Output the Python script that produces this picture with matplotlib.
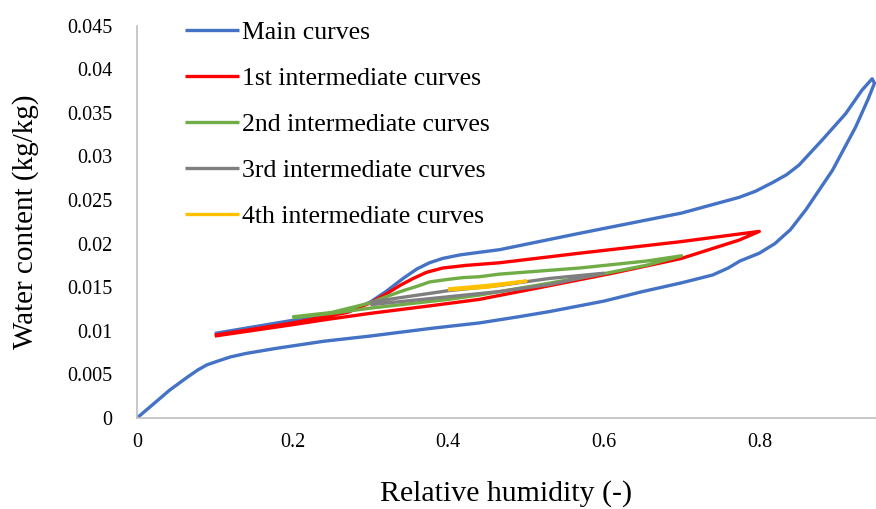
import matplotlib
matplotlib.use("Agg")
import matplotlib.pyplot as plt

plt.rcParams['font.family'] = ['Liberation Serif', 'DejaVu Serif']

# main sorption loop: adsorption up to the peak, then desorption back down
main_rh = [0.0, 0.042, 0.065, 0.078, 0.090, 0.103, 0.12, 0.14, 0.18, 0.24, 0.30, 0.38, 0.44, 0.49, 0.53,
           0.60, 0.65, 0.70, 0.74, 0.76, 0.775, 0.80, 0.82, 0.84, 0.86, 0.894, 0.924, 0.940, 0.948,
           0.945, 0.932, 0.911, 0.881, 0.851, 0.835, 0.817, 0.795, 0.774, 0.70, 0.57, 0.466, 0.44, 0.415,
           0.393, 0.376, 0.36, 0.342, 0.32, 0.30, 0.273, 0.244, 0.20, 0.10]
main_wc = [0.0, 0.0032, 0.0047, 0.0055, 0.0061, 0.0065, 0.0070, 0.0074, 0.0080, 0.0088, 0.0094, 0.0103, 0.0109, 0.0116, 0.0122,
           0.0134, 0.0145, 0.0155, 0.0164, 0.0172, 0.0180, 0.0189, 0.0200, 0.0216, 0.0239, 0.0284, 0.0334, 0.0366, 0.0384,
           0.0389, 0.0376, 0.0349, 0.0319, 0.0290, 0.0279, 0.0270, 0.0260, 0.0253, 0.0235, 0.0212, 0.0193, 0.0190, 0.0187,
           0.0183, 0.0178, 0.0171, 0.0160, 0.0145, 0.0133, 0.0122, 0.0119, 0.0112, 0.0097]

first_rh = [0.10, 0.20, 0.244, 0.30, 0.38, 0.44, 0.526, 0.611, 0.70, 0.774, 0.80,
            0.697, 0.569, 0.466, 0.423, 0.393, 0.372, 0.355, 0.338, 0.32, 0.30, 0.27, 0.20, 0.10]
first_wc = [0.0094, 0.0107, 0.0113, 0.0120, 0.0129, 0.0136, 0.0151, 0.0166, 0.0183, 0.0204, 0.0214,
            0.0202, 0.0189, 0.0178, 0.0175, 0.0172, 0.0167, 0.0160, 0.0152, 0.0142, 0.0132, 0.0121, 0.0109, 0.0095]

second_rh = [0.20, 0.25, 0.30, 0.40, 0.44, 0.526, 0.603, 0.654, 0.70,
             0.655, 0.569, 0.466, 0.44, 0.419, 0.40, 0.376, 0.36, 0.342, 0.32, 0.30, 0.25, 0.20]
second_wc = [0.0115, 0.0120, 0.0126, 0.0136, 0.0141, 0.0154, 0.0166, 0.0175, 0.0186,
             0.0180, 0.0172, 0.0165, 0.0162, 0.0161, 0.0159, 0.0156, 0.0151, 0.0146, 0.0139, 0.0132, 0.0121, 0.0116]

third_rh = [0.30, 0.40, 0.466, 0.53, 0.60, 0.53, 0.466, 0.40, 0.30]
third_wc = [0.0130, 0.0139, 0.0145, 0.0153, 0.0166, 0.0160, 0.0152, 0.0146, 0.0133]

fourth_rh = [0.40, 0.45, 0.50, 0.45, 0.40]
fourth_wc = [0.0148, 0.0152, 0.0157, 0.0150, 0.0147]

labels = ['Main curves', '1st intermediate curves', '2nd intermediate curves',
          '3rd intermediate curves', '4th intermediate curves']
colors = ['#4472C4', '#FF0000', '#70AD47', '#7F7F7F', '#FFC000']

fig = plt.figure(figsize=(8.76, 5.09), dpi=100)
ax = fig.add_axes([0.1564, 0.1788, 0.8436, 0.7709])

series = [(main_rh, main_wc), (first_rh, first_wc), (second_rh, second_wc),
          (third_rh, third_wc), (fourth_rh, fourth_wc)]
for (x, y), c, lab in zip(series, colors, labels):
    ax.plot(x, y, color=c, lw=2.4, label=lab, solid_joinstyle='round', solid_capstyle='butt')

ax.set_xlim(0, 0.95)
ax.set_ylim(0, 0.045)
ax.set_xticks([0, 0.2, 0.4, 0.6, 0.8])
ax.set_xticklabels(['0', '0.2', '0.4', '0.6', '0.8'])
ax.set_yticks([0, 0.005, 0.01, 0.015, 0.02, 0.025, 0.03, 0.035, 0.04, 0.045])
ax.set_yticklabels(['0', '0.005', '0.01', '0.015', '0.02', '0.025', '0.03', '0.035', '0.04', '0.045'])
ax.tick_params(axis='both', length=0, labelsize=14.5)
ax.tick_params(axis='y', pad=18)
ax.tick_params(axis='x', pad=11)
for s in ['top', 'right']:
    ax.spines[s].set_visible(False)
for s in ['left', 'bottom']:
    ax.spines[s].set_color('#BFBFBF')
    ax.spines[s].set_linewidth(1.2)

ax.set_xlabel('Relative humidity (-)', fontsize=21.5, labelpad=20)
ax.set_ylabel('Water content (kg/kg)', fontsize=21, labelpad=20)

fig.legend(loc='upper left', bbox_to_anchor=(185 / 876, 1 - 21 / 509), frameon=False,
           fontsize=18.5, handlelength=2.1, handletextpad=0.12, labelspacing=0.9,
           borderpad=0, borderaxespad=0)

fig.savefig('out.png', dpi=100)
